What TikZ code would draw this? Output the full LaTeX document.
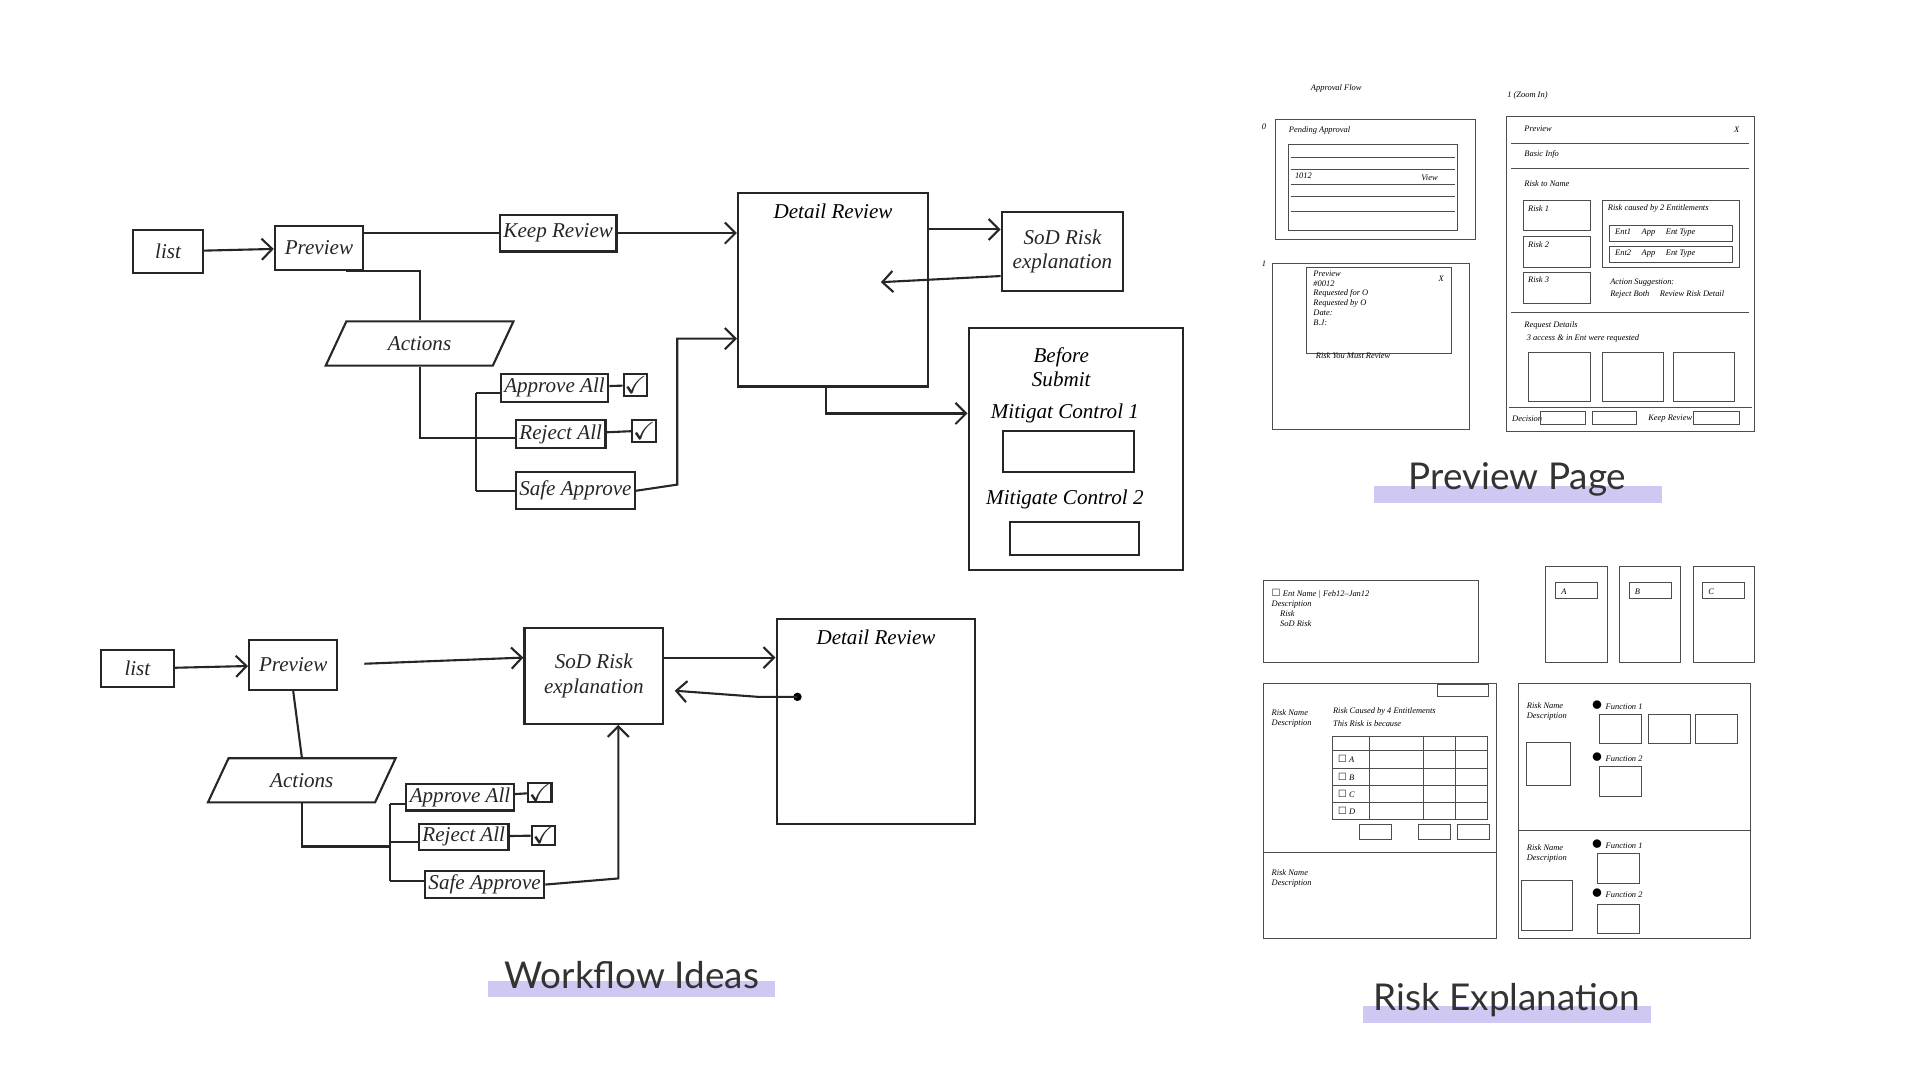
\documentclass[tikz,border=0pt]{standalone}
\usepackage{amssymb}
\usepackage{fontspec}
\setmainfont{Liberation Serif}
\newfontfamily\lab{Lato}
\usetikzlibrary{shapes.geometric,arrows.meta}
\definecolor{lav}{RGB}{206,200,243}
\begin{document}
\begin{tikzpicture}[x=0.012268cm,y=-0.012268cm,
  w/.style={minimum width=#1*0.3491pt},
  h/.style={minimum height=#1*0.3491pt},
  bx/.style={draw,pen,inner sep=1pt},
  pen/.style={line width=0.6pt,black!85},
  thin/.style={line width=0.25pt,black!70},
  arr/.style={pen,-{Straight Barb[length=3pt]}},
  hw/.style={font=\itshape\fontsize{6}{7}\selectfont},
  tiny/.style={font=\fontsize{2.4}{2.8}\selectfont\itshape,anchor=west,inner sep=0pt},
  para/.style={draw,pen,trapezium,trapezium left angle=65,trapezium right angle=115,w=40,h=36,inner sep=1pt,font=\itshape\fontsize{6}{7}\selectfont},
  lbl/.style={font=\lab\fontsize{10.5}{12}\selectfont,text=black!80},
  bar/.style={fill=lav,draw=none}]
\useasboundingbox (0,0) rectangle (1565,888);
% ---------- top workflow ----------
\node[bx,w=57,h=35,hw] (l1) at (137,205) {list};
\node[bx,w=72,h=36,hw] (p1) at (260,202) {Preview};
\node[bx,w=90,h=30,hw] (k1) at (455,190) {Keep Review};
\node[bx,w=155,h=158] (d1) at (679,236) {};
\node[hw,anchor=north] at (d1.north) {Detail Review};
\node[bx,w=99,h=65,hw,align=center] (s1) at (866,205) {SoD Risk\\explanation};
\node[para] (a1) at (342,280) {Actions};
\node[bx,w=75,h=23,hw] (ap1) at (452,316) {Approve All};
\node[bx,w=70,h=23,hw] (rj1) at (457,354) {Reject All};
\node[bx,w=93,h=30,hw] (sa1) at (469,400) {Safe Approve};
\node[bx,w=18,h=18,inner sep=0pt,font=\scriptsize] (c1) at (518,314) {$\checkmark$};
\node[bx,w=18,h=18,inner sep=0pt,font=\scriptsize] (c2) at (525,351) {$\checkmark$};
\node[bx,w=175,h=197] (b1) at (877,366) {};
\node[hw,align=center,anchor=north] at (865,273) {Before\\Submit};
\node[hw] at (868,337) {Mitigat Control 1};
\node[bx,w=107,h=33] (m1) at (871,368) {};
\node[hw] at (868,407) {Mitigate Control 2};
\node[bx,w=105,h=27] (m2) at (876,439) {};
\coordinate (t1) at (718,230);
\draw[arr] (l1) -- (p1);
\draw[pen] (p1.east|-k1) -- (k1);
\draw[arr] (k1.east) -- (d1.west|-k1);
\draw[arr] (d1.east|-0,187) -- (s1.west|-0,187);
\draw[arr] (s1.west|-0,225) -- (t1);
\draw[pen] (p1.south east) ++(-15,0) -| (a1.north);
\draw[pen] (a1.south) |- (388,357);
\draw[pen] (388,320) -- (388,400);
\draw[pen] (388,320) -- (ap1.west|-388,320);
\draw[pen] (388,357) -- (rj1.west|-0,357);
\draw[pen] (388,400) -- (sa1.west|-0,400);
\draw[pen] (ap1) -- (c1); \draw[pen] (rj1) -- (c2);
\draw[arr] (sa1.east) -- (552,395) -- (552,276) -- (d1.west|-0,276);
\draw[arr] (673,315) -- (673,337) -- (b1.west|-0,337);
% ---------- bottom workflow ----------
\node[bx,w=59,h=30,hw] (l2) at (112,545) {list};
\node[bx,w=72,h=41,hw] (p2) at (239,542) {Preview};
\node[bx,w=113,h=78,hw,align=center] (s2) at (484,551) {SoD Risk\\explanation};
\node[bx,w=162,h=167] (d2) at (714,588) {};
\node[hw,anchor=north] at (d2.north) {Detail Review};
\node[para] (a2) at (246,636) {Actions};
\node[bx,w=70,h=20,hw] (ap2) at (375,650) {Approve All};
\node[bx,w=66,h=20,hw] (rj2) at (378,682) {Reject All};
\node[bx,w=95,h=22,hw] (sa2) at (395,721) {Safe Approve};
\node[bx,w=16,h=16,inner sep=0pt,font=\scriptsize] (c3) at (440,646) {$\checkmark$};
\node[bx,w=16,h=16,inner sep=0pt,font=\scriptsize] (c4) at (443,681) {$\checkmark$};
\coordinate (dot) at (650,568);
\fill (dot) circle (1.2pt);
\draw[arr] (l2) -- (p2);
\draw[arr] (297,541) -- (s2.west|-0,536);
\draw[arr] (s2.east|-0,536) -- (d2.west|-0,536);
\draw[arr] (dot) -- (618,568) -- (550,563);
\draw[pen] (p2.south) -- (a2.north);
\draw[pen] (a2.south) |- (318,690);
\draw[pen] (318,655) -- (318,718);
\draw[pen] (318,655) -- (ap2.west|-0,655);
\draw[pen] (318,686) -- (rj2.west|-0,686);
\draw[pen] (318,718) -- (sa2.west|-0,718);
\draw[pen] (ap2) -- (c3); \draw[pen] (rj2) -- (c4);
\draw[arr] (sa2.east) -- (504,716) -- (s2.south-|504,0);
% ---------- labels ----------
\fill[bar] (398,800) rectangle (632,813);
\node[lbl] at (515,795) {Workflow Ideas};
\fill[bar] (1120,396) rectangle (1355,410);
\node[lbl] at (1237,391) {Preview Page};
\fill[bar] (1111,820) rectangle (1346,834);
\node[lbl] at (1228,815) {Risk Explanation};
% ---------- preview wireframes ----------
\node[tiny] at (1068,72) {Approval Flow};
\node[tiny] at (1028,103) {0};
\node[tiny] at (1028,215) {1};
\node[tiny] at (1228,78) {1 (Zoom In)};
\draw[thin] (1040,97) rectangle (1203,195);
\node[tiny] at (1050,106) {Pending Approval};
\draw[thin] (1050,118) rectangle (1188,188);
\foreach \y in {128,138,150,160,172} \draw[thin] (1052,\y) -- (1186,\y);
\node[tiny] at (1055,143) {1012}; \node[tiny] at (1158,145) {View};
\draw[thin] (1037,215) rectangle (1198,350);
\draw[thin] (1065,218) rectangle (1183,288);
\node[tiny,align=left,anchor=north west] at (1070,220) {Preview\\\#0012\\Requested for O\\Requested by O\\Date:\\B.J:};
\node[tiny] at (1172,227) {X};
\node[tiny] at (1072,290) {Risk You Must Review};
\draw[thin] (1228,95) rectangle (1430,352);
\node[tiny] at (1242,105) {Preview}; \node[tiny] at (1413,106) {X};
\draw[thin] (1232,117) -- (1426,117); \draw[thin] (1232,137) -- (1426,137);
\node[tiny] at (1242,126) {Basic Info};
\node[tiny] at (1242,150) {Risk to Name};
\foreach \y in {163,193,222} \draw[thin] (1242,\y) rectangle (1296,\y+25);
\node[tiny] at (1245,170) {Risk 1}; \node[tiny] at (1245,199) {Risk 2}; \node[tiny] at (1245,228) {Risk 3};
\draw[thin] (1306,163) rectangle (1418,218);
\node[tiny] at (1310,170) {Risk caused by 2 Entitlements};
\draw[thin] (1312,184) rectangle (1412,197); \draw[thin] (1312,201) rectangle (1412,214);
\node[tiny] at (1316,190) {Ent1 \quad App \quad Ent Type};
\node[tiny] at (1316,207) {Ent2 \quad App \quad Ent Type};
\node[tiny] at (1312,230) {Action Suggestion:};
\node[tiny] at (1312,240) {Reject Both \quad Review Risk Detail};
\draw[thin] (1232,255) -- (1426,255);
\node[tiny] at (1242,265) {Request Details};
\node[tiny] at (1244,276) {3 access \& in Ent were requested};
\foreach \x in {1246,1306,1364} \draw[thin] (\x,287) rectangle (\x+50,327);
\draw[thin] (1230,332) -- (1428,332);
\node[tiny] at (1232,341) {Decision}; \draw[thin] (1256,335) rectangle (1292,346);
\draw[thin] (1298,335) rectangle (1334,346);
\node[tiny] at (1343,341) {Keep Review}; \draw[thin] (1380,335) rectangle (1418,346);
% ---------- risk explanation wireframes ----------
\draw[thin] (1030,473) rectangle (1205,540);
\node[tiny,align=left,anchor=north west] at (1036,480) {$\square$ Ent Name | Feb12--Jan12\\Description\\\quad Risk\\\quad SoD Risk};
\foreach \x/\l in {1260/A,1320/B,1380/C} {\draw[thin] (\x,462) rectangle (\x+50,540);
  \draw[thin] (\x+8,475) rectangle (\x+42,488); \node[tiny] at (\x+12,482) {\l};}
\draw[thin] (1030,557) rectangle (1220,765);
\draw[thin] (1030,695) -- (1220,695);
\node[tiny,align=left,anchor=north west] at (1036,578) {Risk Name\\Description};
\node[tiny,align=left,anchor=north west] at (1036,708) {Risk Name\\Description};
\draw[thin] (1172,558) rectangle (1213,568);
\node[tiny] at (1086,580) {Risk Caused by 4 Entitlements};
\node[tiny] at (1086,590) {This Risk is because};
\draw[thin] (1086,600) rectangle (1212,668);
\foreach \y in {612,626,640,654} \draw[thin] (1086,\y) -- (1212,\y);
\foreach \x in {1116,1160,1186} \draw[thin] (\x,600) -- (\x,668);
\foreach \y/\l in {619/A,633/B,647/C,661/D} \node[tiny] at (1090,\y) {$\square$ \l};
\foreach \x in {1108,1156,1188} \draw[thin] (\x,672) rectangle (\x+26,684);
\draw[thin] (1238,557) rectangle (1427,765);
\draw[thin] (1238,677) -- (1427,677);
\node[tiny,align=left,anchor=north west] at (1244,572) {Risk Name\\Description};
\draw[thin] (1244,605) rectangle (1280,640);
\node[tiny,align=left,anchor=north west] at (1244,688) {Risk Name\\Description};
\draw[thin] (1240,718) rectangle (1282,758);
\node[tiny] at (1296,575) {$\bullet$ Function 1};
\node[tiny] at (1296,617) {$\bullet$ Function 2};
\node[tiny] at (1296,688) {$\bullet$ Function 1};
\node[tiny] at (1296,728) {$\bullet$ Function 2};
\foreach \x/\y in {1304/582,1344/582,1382/582,1304/625,1302/696,1302/737} \draw[thin] (\x,\y) rectangle (\x+34,\y+24);
\end{tikzpicture}
\end{document}
